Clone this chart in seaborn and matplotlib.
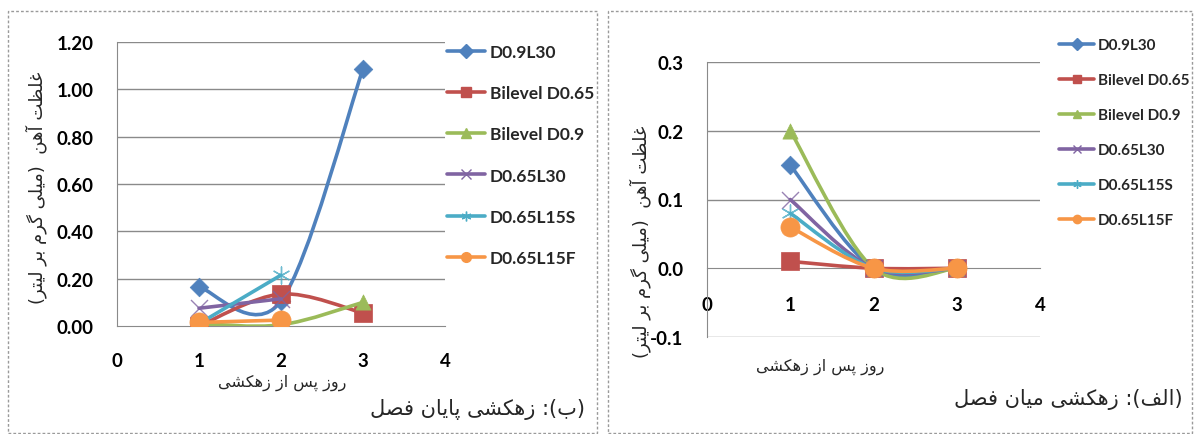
import numpy as np
import pandas as pd
import matplotlib
matplotlib.use("Agg")
import matplotlib.pyplot as plt
import seaborn as sns
from matplotlib.path import Path
from matplotlib.patches import PathPatch, Rectangle
from matplotlib.lines import Line2D

# ---------------- data ----------------
days = [1, 2, 3]
series_names = ["D0.9L30", "Bilevel D0.65", "Bilevel D0.9", "D0.65L30", "D0.65L15S", "D0.65L15F"]

# (ب) end-of-season drainage
end_D09L30 = [0.165, 0.105, 1.086]
end_BiD065 = [0.00, 0.135, 0.055]
end_BiD09 = [0.01, 0.005, 0.10]
end_D065L30 = [0.075, 0.115, np.nan]
end_D065L15S = [0.01, 0.215, np.nan]
end_D065L15F = [0.015, 0.025, np.nan]

# (الف) mid-season drainage
mid_D09L30 = [0.15, 0.0, 0.0]
mid_BiD065 = [0.01, 0.0, 0.0]
mid_BiD09 = [0.20, 0.0, 0.0]
mid_D065L30 = [0.10, 0.0, 0.0]
mid_D065L15S = [0.08, 0.0, 0.0]
mid_D065L15F = [0.06, 0.0, 0.0]

colors = ["#4F81BD", "#C0504D", "#9BBB59", "#8064A2", "#4BACC6", "#F79646"]
markers = ["D", "s", "^", "x", (6, 2, 0), "o"]
msizes = [90, 150, 120, 150, 150, 190]

ylabel_fa = "غلظت آهن  (میلی گرم بر لیتر)"
xlabel_fa = "روز پس از زهکشی"
cap_left = "(ب): زهکشی پایان فصل"
cap_right = "(الف): زهکشی میان فصل"

# ---------------- simple arabic shaping (no reshaper available) ----------------
FORMS = {
    "\u0627": ("\uFE8D", "\uFE8E", None, None),
    "\u0622": ("\uFE81", "\uFE82", None, None),
    "\u0628": ("\uFE8F", "\uFE90", "\uFE91", "\uFE92"),
    "\u062A": ("\uFE95", "\uFE96", "\uFE97", "\uFE98"),
    "\u062F": ("\uFEA9", "\uFEAA", None, None),
    "\u0631": ("\uFEAD", "\uFEAE", None, None),
    "\u0632": ("\uFEAF", "\uFEB0", None, None),
    "\u0633": ("\uFEB1", "\uFEB2", "\uFEB3", "\uFEB4"),
    "\u0634": ("\uFEB5", "\uFEB6", "\uFEB7", "\uFEB8"),
    "\u0635": ("\uFEB9", "\uFEBA", "\uFEBB", "\uFEBC"),
    "\u0638": ("\uFEC5", "\uFEC6", "\uFEC7", "\uFEC8"),
    "\u063A": ("\uFECD", "\uFECE", "\uFECF", "\uFED0"),
    "\u0641": ("\uFED1", "\uFED2", "\uFED3", "\uFED4"),
    "\u0644": ("\uFEDD", "\uFEDE", "\uFEDF", "\uFEE0"),
    "\u0645": ("\uFEE1", "\uFEE2", "\uFEE3", "\uFEE4"),
    "\u0646": ("\uFEE5", "\uFEE6", "\uFEE7", "\uFEE8"),
    "\u0647": ("\uFEE9", "\uFEEA", "\uFEEB", "\uFEEC"),
    "\u0648": ("\uFEED", "\uFEEE", None, None),
    "\u067E": ("\uFB56", "\uFB57", "\uFB58", "\uFB59"),
    "\u06A9": ("\uFB8E", "\uFB8F", "\uFB90", "\uFB91"),
    "\u06AF": ("\uFB92", "\uFB93", "\uFB94", "\uFB95"),
    "\u06CC": ("\uFBFC", "\uFBFD", "\uFBFE", "\uFBFF"),
}


def fa(text):
    out = []
    for i, ch in enumerate(text):
        if ch not in FORMS:
            out.append(ch)
            continue
        prev = text[i - 1] if i > 0 else None
        nxt = text[i + 1] if i < len(text) - 1 else None
        f = FORMS[ch]
        jp = prev in FORMS and FORMS[prev][2] is not None
        jn = nxt in FORMS and f[2] is not None
        if jp and jn:
            out.append(f[3])
        elif jp:
            out.append(f[1])
        elif jn:
            out.append(f[2])
        else:
            out.append(f[0])
    return "".join(reversed(out)).translate(str.maketrans("()", ")("))


# ---------------- helpers ----------------
def smooth_path(xs, ys):
    # excel-like smoothed line: cubic bezier segments through the points
    pts = [(x, y) for x, y in zip(xs, ys) if not np.isnan(y)]
    n = len(pts)
    verts = [pts[0]]
    codes = [Path.MOVETO]
    for i in range(n - 1):
        p0 = pts[i - 1] if i > 0 else pts[i]
        p1, p2 = pts[i], pts[i + 1]
        p3 = pts[i + 2] if i + 2 < n else pts[i + 1]
        c1 = (p1[0] + (p2[0] - p0[0]) / 6, p1[1] + (p2[1] - p0[1]) / 6)
        c2 = (p2[0] - (p3[0] - p1[0]) / 6, p2[1] - (p3[1] - p1[1]) / 6)
        verts += [c1, c2, p2]
        codes += [Path.CURVE4] * 3
    return Path(verts, codes)


def draw_panel(ax, series, ylim, yticks, yfmt):
    ax.set_xlim(0, 4)
    ax.set_ylim(*ylim)
    for k, (name, vals) in enumerate(zip(series_names, series)):
        ax.add_patch(PathPatch(smooth_path(days, vals), fill=False, edgecolor=colors[k],
                               lw=2.6, zorder=3 + k, capstyle="round", joinstyle="round"))
        df = pd.DataFrame({"day": days, "val": vals}).dropna()
        if markers[k] in ("x", (6, 2, 0)):
            sns.scatterplot(data=df, x="day", y="val", ax=ax, marker=markers[k], s=msizes[k],
                            color=colors[k], linewidth=1.0, zorder=3.5 + k, alpha=0.8)
        else:
            sns.scatterplot(data=df, x="day", y="val", ax=ax, marker=markers[k], s=msizes[k],
                            color=colors[k], edgecolor=colors[k], linewidth=0.5, zorder=3.5 + k)
    ax.set_yticks(yticks)
    ax.set_yticklabels([yfmt.format(v) for v in yticks])
    ax.set_xticks([0, 1, 2, 3, 4])
    ax.set_xlabel("")
    ax.set_ylabel("")
    for v in yticks:
        if v != 0:
            ax.axhline(v, color="#8a8a8a", lw=1.0, zorder=1)
    for s in ["top", "right"]:
        ax.spines[s].set_visible(False)
    ax.spines["left"].set_color("#8a8a8a")
    ax.spines["bottom"].set_color("#8a8a8a")
    ax.spines["bottom"].set_position(("data", 0))
    ax.spines["bottom"].set_zorder(2)
    ax.tick_params(axis="both", colors="#8a8a8a", labelcolor="black", length=5, width=1,
                   direction="out", labelsize=13.5)
    ax.tick_params(axis="y", pad=12)
    for lab in ax.get_xticklabels() + ax.get_yticklabels():
        lab.set_fontweight("bold")


def legend_handles(ms):
    hs = []
    for k in range(len(series_names)):
        hs.append(Line2D([0], [0], color=colors[k], lw=2.6, marker=markers[k], markersize=ms,
                         markerfacecolor=colors[k], markeredgecolor=colors[k], markeredgewidth=1))
    return hs


# ---------------- figure ----------------
sns.set_style("white")
plt.rcParams["font.family"] = ["Lato", "DejaVu Sans"]

W, H = 1194, 435
fig = plt.figure(figsize=(W / 100, H / 100), dpi=100)


def fx(px):
    return px / W


def fy(py):
    return 1 - py / H


# panel borders
for x0, x1 in [(8, 597), (608, 1192)]:
    fig.patches.append(Rectangle((fx(x0), fy(434)), fx(x1 - x0), (434 - 12) / H, transform=fig.transFigure,
                                 fill=False, edgecolor="#9a9a9a", lw=1.0, linestyle=(0, (2, 1.5))))

# left: (ب)
axL = fig.add_axes([fx(117), fy(327), fx(445 - 117), (327 - 43) / H])
draw_panel(axL, [end_D09L30, end_BiD065, end_BiD09, end_D065L30, end_D065L15S, end_D065L15F],
           (0, 1.2), [0, 0.2, 0.4, 0.6, 0.8, 1.0, 1.2], "{:.2f}")
axL.tick_params(axis="x", pad=14)
axL.legend(handles=legend_handles(7), labels=series_names, loc="upper left",
           bbox_to_anchor=(fx(447), fy(45)), bbox_transform=fig.transFigure, frameon=False,
           borderaxespad=0, borderpad=0, handlelength=2.2, handletextpad=0.25, labelspacing=1.45,
           prop={"family": "Lato", "weight": "bold", "size": 12.5})

# right: (الف)
axR = fig.add_axes([fx(707), fy(338), fx(1040 - 707), (338 - 63) / H])
draw_panel(axR, [mid_D09L30, mid_BiD065, mid_BiD09, mid_D065L30, mid_D065L15S, mid_D065L15F],
           (-0.1, 0.3), [-0.1, 0.0, 0.1, 0.2, 0.3], "{:.1f}")
axR.tick_params(axis="x", pad=15)
axR.legend(handles=legend_handles(6), labels=series_names, loc="upper left",
           bbox_to_anchor=(fx(1059), fy(39)), bbox_transform=fig.transFigure, frameon=False,
           borderaxespad=0, borderpad=0, handlelength=2.3, handletextpad=0.25, labelspacing=1.38,
           prop={"family": "Lato", "weight": "bold", "size": 11})

# persian texts
fa_font = ["DejaVu Sans"]
fig.text(fx(36), fy(188), fa(ylabel_fa), rotation=90, ha="center", va="center", fontsize=13, family=fa_font)
fig.text(fx(640), fy(242), fa(ylabel_fa), rotation=90, ha="center", va="center", fontsize=13, family=fa_font)
fig.text(fx(282), fy(383), fa(xlabel_fa), ha="center", va="center", fontsize=11.5, family=fa_font)
fig.text(fx(820), fy(367), fa(xlabel_fa), ha="center", va="center", fontsize=11.5, family=fa_font)
fig.text(fx(478), fy(410), fa(cap_left), ha="center", va="center", fontsize=15, family=fa_font)
fig.text(fx(1068), fy(400), fa(cap_right), ha="center", va="center", fontsize=15, family=fa_font)

fig.savefig("out.png", dpi=100)
